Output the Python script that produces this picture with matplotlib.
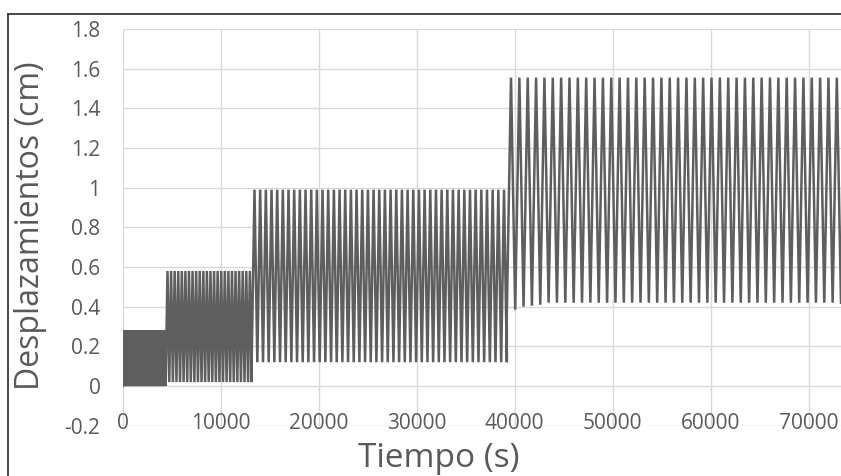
import matplotlib
matplotlib.use("Agg")
import matplotlib.pyplot as plt
from matplotlib.lines import Line2D
import numpy as np

# ---- data ----
stage_start = [0, 4390, 13160, 39200]
stage_end = [4390, 13160, 39200, 73300]
stage_low = [0.0, 0.02, 0.12, 0.42]
stage_high = [0.28, 0.58, 0.99, 1.555]
stage_cycles = [80, 24, 45, 40]
stage4_first_troughs = [0.37, 0.385, 0.40, 0.405, 0.41]

x_ticks = [0, 10000, 20000, 30000, 40000, 50000, 60000, 70000]
x_tick_labels = ["0", "10000", "20000", "30000", "40000", "50000", "60000", "70000"]
y_ticks = [-0.2, 0, 0.2, 0.4, 0.6, 0.8, 1.0, 1.2, 1.4, 1.6, 1.8]
y_tick_labels = ["-0.2", "0", "0.2", "0.4", "0.6", "0.8", "1", "1.2", "1.4", "1.6", "1.8"]

# ---- build peak / trough sequence from the stage table ----
xs, ys = [], []
for i, (s, e, lo, hi, n) in enumerate(zip(stage_start, stage_end, stage_low,
                                          stage_high, stage_cycles)):
    half = (e - s) / (2 * n)
    for k in range(2 * n + 1):
        xs.append(s + k * half)
        if k % 2 == 0:
            trough = lo
            if i == 3 and k // 2 < len(stage4_first_troughs):
                trough = stage4_first_troughs[k // 2]
            ys.append(trough)
        else:
            ys.append(hi)

W, H = 841, 476
fig = plt.figure(figsize=(W / 100, H / 100), dpi=100)
fig.patch.set_facecolor("white")

left = 122.7 / W
right = 1.0
top = 1 - 29 / H
bottom = 1 - 425.7 / H
ax = fig.add_axes([left, bottom, right - left, top - bottom])

ax.plot(xs, ys, color="#5e5e5e", lw=1.8, solid_joinstyle="miter", zorder=3)

ax.set_xlim(0, 73300)
ax.set_ylim(-0.2, 1.8)
ax.set_xticks(x_ticks)
ax.set_xticklabels(x_tick_labels)
ax.set_yticks(y_ticks)
ax.set_yticklabels(y_tick_labels)

ax.grid(True, color="#d9d9d9", lw=1.0, zorder=0)
for sp in ax.spines.values():
    sp.set_visible(False)

font = "Open Sans"
ax.tick_params(axis="both", length=0, colors="#595959", labelsize=15)
ax.tick_params(axis="x", pad=-9.5)
ax.tick_params(axis="y", pad=16)
for lab in ax.get_xticklabels() + ax.get_yticklabels():
    lab.set_fontfamily(font)

fig.text(439 / W, 1 - 466.7 / H, "Tiempo (s)", ha="center", va="baseline",
         fontsize=24, color="#595959", family=font)
fig.text(31 / W, 1 - 226 / H, "Desplazamientos (cm)", ha="center", va="center",
         rotation=90, fontsize=23, color="#595959", family=font)

# outer chart border (cropped on right and bottom)
bx = 8 / W
by = 1 - 14 / H
fig.add_artist(Line2D([bx, bx], [0, by], transform=fig.transFigure,
                      color="#3a3a3a", lw=1.3))
fig.add_artist(Line2D([bx, 1], [by, by], transform=fig.transFigure,
                      color="#3a3a3a", lw=1.3))

fig.savefig("out.png", dpi=100, facecolor="white")
